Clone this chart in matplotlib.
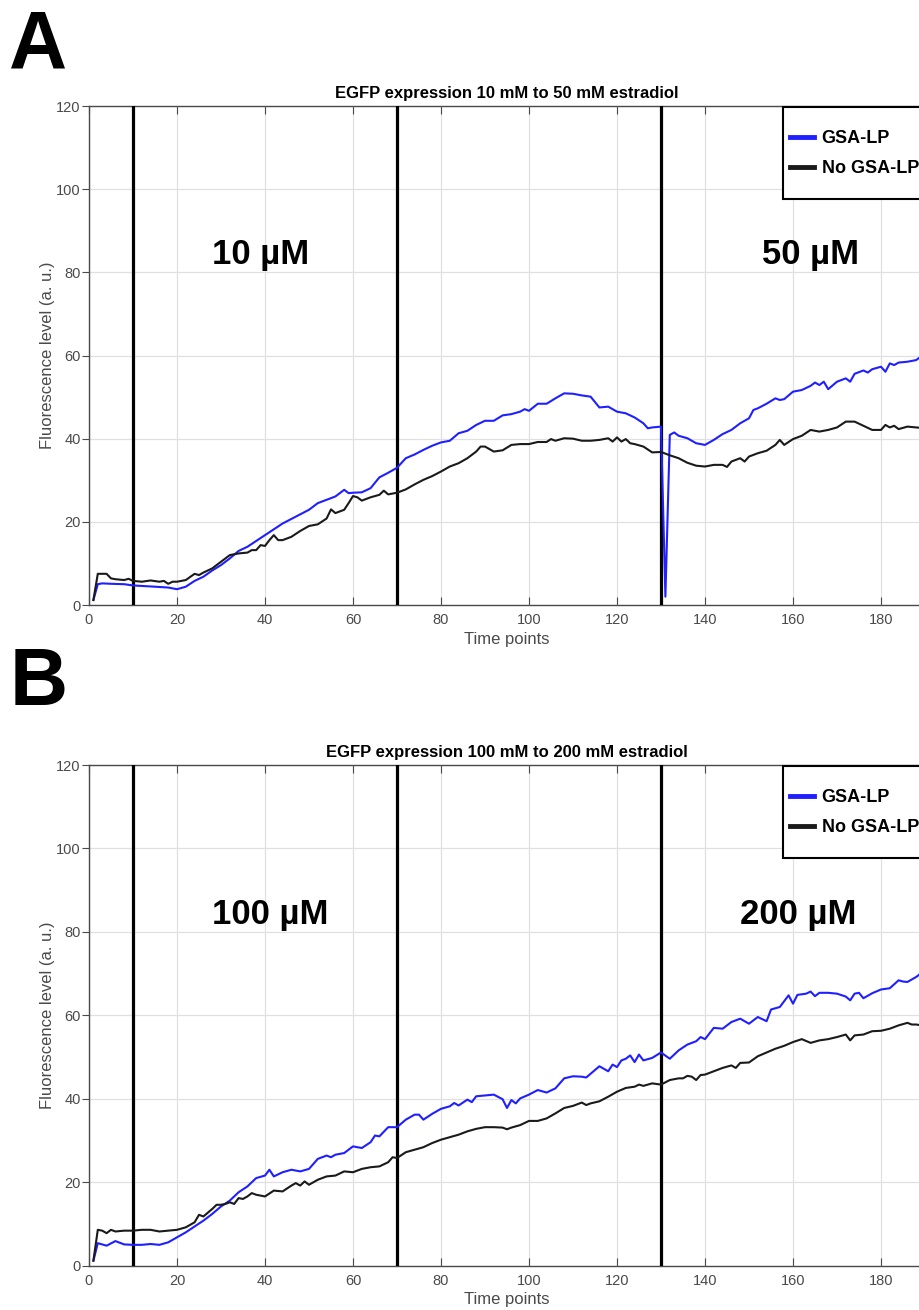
import matplotlib
matplotlib.use('Agg')
import matplotlib.pyplot as plt
from matplotlib.patches import Rectangle

plt.rcParams['font.family'] = ['Liberation Sans', 'DejaVu Sans']

# panel A: 10 uM -> 50 uM
ta_gsa = [1, 2, 3, 5, 8, 10, 15, 18, 20, 22, 24, 26, 28, 30, 32, 34, 36, 38, 40, 42,
          44, 46, 48, 50, 52, 54, 56, 58, 59, 60, 62, 64, 66, 68, 70, 72, 74, 76, 78, 80,
          82, 84, 86, 88, 90, 92, 94, 96, 98, 99, 100, 102, 104, 106, 108, 110, 112, 114, 116, 118,
          120, 122, 124, 126, 127, 128, 130, 131, 132, 133, 134, 136, 138, 140, 142, 144, 146, 148, 150, 151,
          152, 154, 156, 157, 158, 160, 162, 164, 165, 166, 167, 168, 170, 172, 173, 174, 176, 177, 178, 180,
          181, 182, 183, 184, 186, 188, 189, 190]
ya_gsa = [1.2, 5.0, 5.2, 5.1, 5.0, 4.7, 4.4, 4.2, 3.8, 4.4, 5.8, 6.8, 8.3, 9.6, 11.2, 13.0, 14.0, 15.4, 16.8, 18.2,
          19.6, 20.7, 21.8, 22.9, 24.5, 25.3, 26.1, 27.7, 26.9, 27.0, 27.1, 28.1, 30.7, 31.8, 33.0, 35.3, 36.2, 37.3, 38.3, 39.1,
          39.5, 41.3, 41.9, 43.3, 44.3, 44.3, 45.6, 45.9, 46.5, 47.1, 46.7, 48.4, 48.4, 49.7, 50.9, 50.8, 50.4, 50.1, 47.5, 47.7,
          46.5, 46.1, 45.1, 43.7, 42.5, 42.7, 42.9, 2.0, 40.9, 41.5, 40.7, 40.1, 38.9, 38.5, 39.7, 41.1, 42.1, 43.7, 44.9, 46.9,
          47.3, 48.4, 49.7, 49.3, 49.5, 51.3, 51.7, 52.7, 53.5, 52.9, 53.7, 51.9, 53.7, 54.5, 53.7, 55.6, 56.4, 55.9, 56.7, 57.3,
          56.1, 58.1, 57.7, 58.3, 58.5, 58.9, 59.7, 59.9]

ta_nogsa = [1, 2, 4, 5, 6, 8, 9, 10, 12, 14, 16, 17, 18, 19, 20, 22, 24, 25, 26, 28,
            30, 32, 34, 36, 37, 38, 39, 40, 41, 42, 43, 44, 46, 48, 50, 52, 54, 55, 56, 58,
            59, 60, 61, 62, 64, 66, 67, 68, 70, 72, 74, 76, 78, 80, 82, 84, 86, 88, 89, 90,
            92, 94, 96, 98, 100, 102, 104, 105, 106, 108, 110, 112, 114, 116, 118, 119, 120, 121, 122, 123,
            124, 126, 128, 130, 132, 134, 136, 138, 140, 142, 144, 145, 146, 148, 149, 150, 152, 154, 156, 157,
            158, 160, 162, 164, 166, 168, 170, 172, 174, 176, 178, 180, 181, 182, 183, 184, 186, 188, 190]
ya_nogsa = [1.2, 7.5, 7.5, 6.4, 6.2, 6.0, 6.3, 5.8, 5.6, 5.9, 5.6, 5.8, 5.1, 5.6, 5.6, 6.0, 7.5, 7.2, 7.8, 8.8,
            10.4, 12.0, 12.4, 12.6, 13.2, 13.2, 14.4, 14.2, 15.6, 16.8, 15.6, 15.6, 16.4, 17.8, 19.0, 19.4, 20.8, 23.0, 22.1, 22.9,
            24.5, 26.2, 25.9, 25.1, 25.9, 26.5, 27.5, 26.6, 27.0, 27.8, 29.0, 30.1, 31.0, 32.1, 33.3, 34.1, 35.3, 36.9, 38.1, 38.1,
            36.9, 37.2, 38.5, 38.7, 38.7, 39.2, 39.2, 39.9, 39.5, 40.1, 40.0, 39.5, 39.5, 39.7, 40.1, 39.3, 40.3, 39.3, 39.9, 38.9,
            38.7, 38.1, 36.7, 36.8, 36.0, 35.3, 34.2, 33.5, 33.3, 33.7, 33.7, 33.2, 34.5, 35.3, 34.5, 35.7, 36.5, 37.1, 38.5, 39.7,
            38.5, 39.9, 40.7, 42.1, 41.7, 42.1, 42.7, 44.1, 44.1, 43.1, 42.1, 42.1, 43.3, 42.7, 43.1, 42.3, 42.9, 42.7, 42.5]

# panel B: 100 uM -> 200 uM
tb_gsa = [1, 2, 4, 6, 8, 10, 12, 14, 16, 18, 20, 22, 24, 26, 28, 30, 32, 34, 36, 38,
          40, 41, 42, 44, 46, 48, 50, 52, 54, 55, 56, 58, 60, 62, 64, 65, 66, 68, 70, 72,
          74, 75, 76, 78, 80, 82, 83, 84, 86, 87, 88, 90, 92, 94, 95, 96, 97, 98, 100, 102,
          104, 106, 108, 110, 112, 113, 115, 116, 118, 119, 120, 121, 122, 123, 124, 125, 126, 128, 130, 132,
          134, 136, 138, 139, 140, 142, 144, 146, 148, 150, 152, 154, 155, 157, 159, 160, 161, 163, 164, 165,
          166, 168, 170, 172, 173, 174, 175, 176, 178, 180, 182, 184, 185, 186, 188, 189, 190]
yb_gsa = [1.2, 5.4, 4.8, 5.9, 5.1, 5.0, 5.0, 5.2, 5.0, 5.6, 6.8, 8.0, 9.4, 10.8, 12.4, 14.2, 15.6, 17.6, 19.0, 21.0,
          21.6, 23.0, 21.4, 22.4, 23.0, 22.6, 23.2, 25.6, 26.4, 26.0, 26.6, 27.0, 28.6, 28.2, 29.6, 31.2, 31.0, 33.2, 33.2, 35.0,
          36.2, 36.2, 35.0, 36.4, 37.6, 38.2, 39.0, 38.4, 39.8, 39.2, 40.6, 40.8, 41.0, 39.9, 37.8, 39.7, 38.9, 40.1, 41.0, 42.1,
          41.5, 42.5, 44.9, 45.4, 45.3, 45.1, 46.9, 47.8, 46.6, 48.2, 47.6, 49.2, 49.6, 50.4, 48.8, 50.6, 49.2, 49.8, 51.1, 49.6,
          51.6, 53.0, 53.8, 54.8, 54.3, 57.0, 56.8, 58.4, 59.2, 58.0, 59.6, 58.6, 61.4, 62.0, 64.8, 62.8, 64.9, 65.2, 65.7, 64.6,
          65.4, 65.4, 65.2, 64.5, 63.6, 65.2, 65.4, 64.1, 65.3, 66.2, 66.5, 68.4, 68.1, 68.0, 69.2, 70.0, 70.4]

tb_nogsa = [1, 2, 3, 4, 5, 6, 8, 10, 12, 14, 16, 18, 20, 22, 24, 25, 26, 28, 29, 30,
            31, 32, 33, 34, 35, 36, 37, 38, 40, 42, 44, 46, 47, 48, 49, 50, 52, 54, 56, 58,
            60, 62, 64, 66, 68, 69, 70, 72, 74, 76, 78, 80, 82, 84, 86, 88, 90, 92, 94, 95,
            96, 98, 100, 102, 104, 106, 108, 110, 112, 113, 114, 116, 118, 120, 122, 124, 125, 126, 128, 130,
            132, 134, 135, 136, 137, 138, 139, 140, 142, 144, 146, 147, 148, 150, 152, 154, 156, 158, 160, 162,
            164, 166, 168, 170, 172, 173, 174, 176, 178, 180, 182, 184, 186, 187, 188, 190]
yb_nogsa = [1.2, 8.6, 8.4, 7.8, 8.6, 8.2, 8.4, 8.4, 8.6, 8.6, 8.2, 8.4, 8.6, 9.2, 10.4, 12.2, 11.8, 13.6, 14.6, 14.6,
            14.8, 15.2, 14.8, 16.2, 16.0, 16.6, 17.4, 17.0, 16.6, 18.0, 17.8, 19.2, 19.8, 19.2, 20.2, 19.4, 20.6, 21.4, 21.6, 22.6,
            22.4, 23.2, 23.6, 23.8, 24.8, 26.0, 25.8, 27.2, 27.8, 28.4, 29.4, 30.2, 30.8, 31.4, 32.2, 32.8, 33.2, 33.2, 33.1, 32.7,
            33.1, 33.7, 34.7, 34.7, 35.3, 36.5, 37.8, 38.3, 39.1, 38.5, 38.9, 39.4, 40.5, 41.7, 42.6, 42.9, 43.4, 43.1, 43.7, 43.4,
            44.5, 44.9, 44.9, 45.5, 45.3, 44.5, 45.7, 45.8, 46.6, 47.4, 48.0, 47.4, 48.6, 48.7, 50.2, 51.1, 52.0, 52.7, 53.6, 54.3,
            53.4, 54.0, 54.3, 54.8, 55.4, 54.0, 55.2, 55.4, 56.2, 56.3, 56.8, 57.6, 58.2, 57.8, 57.8, 57.5]

switch_times = [10, 70, 130]
yticks = [0, 20, 40, 60, 80, 100, 120]
xticks = [0, 20, 40, 60, 80, 100, 120, 140, 160, 180]

BLUE = '#1f1fff'
GREY = '#4a4a4a'


def draw_panel(ax, t1, y1, t2, y2, title, conc1, conc2):
    ax.grid(True, color='#e0e0e0', lw=0.9)
    ax.set_axisbelow(True)
    for x in switch_times:
        ax.axvline(x, color='black', lw=2.3, zorder=3)
    ax.plot(t1, y1, color=BLUE, lw=1.5, label='GSA-LP', zorder=4)
    ax.plot(t2, y2, color='#1a1a1a', lw=1.5, label='No GSA-LP', zorder=4)
    ax.set_xlim(0, 190)
    ax.set_ylim(0, 120)
    ax.set_xticks(xticks)
    ax.set_yticks(yticks)
    ax.tick_params(axis='x', direction='in', length=6, top=True, colors=GREY,
                   labelsize=10.5, pad=6, labelcolor=GREY)
    ax.tick_params(axis='y', direction='out', length=5, colors=GREY,
                   labelsize=10.5, pad=1, labelcolor=GREY)
    for sp in ax.spines.values():
        sp.set_color(GREY)
        sp.set_linewidth(1.0)
    ax.set_xlabel('Time points', fontsize=12, color=GREY, labelpad=3)
    ax.set_ylabel('Fluorescence level (a. u.)', fontsize=12, color=GREY, labelpad=1)
    ax.set_title(title, fontsize=12, weight='bold', pad=6)
    ax.text(conc1[0], 82, conc1[1], fontsize=25, weight='bold', va='baseline', zorder=5)
    ax.text(conc2[0], 82, conc2[1], fontsize=25, weight='bold', va='baseline', zorder=5)

    # legend box is drawn by hand so it can be taller than the entries need
    box = Rectangle((0.830, 0.814), 0.3, 0.184, transform=ax.transAxes,
                    facecolor='white', edgecolor='black', lw=1.5,
                    clip_on=False, zorder=6)
    ax.add_patch(box)
    leg = ax.legend(loc='center left', bbox_to_anchor=(0.830, 0.905), borderaxespad=0,
                    frameon=False, prop={'size': 13, 'weight': 'bold'}, handlelength=1.3,
                    handletextpad=0.45, labelspacing=0.72, borderpad=0.4)
    for line in leg.get_lines():
        line.set_linewidth(3.5)
    leg.set_zorder(7)


fig = plt.figure(figsize=(9.2, 13.1), dpi=100)
ax_a = fig.add_axes([89/920, 705/1310, 836/920, 499/1310])
ax_b = fig.add_axes([89/920, 44.3/1310, 836/920, 500.7/1310])

draw_panel(ax_a, ta_gsa, ya_gsa, ta_nogsa, ya_nogsa,
           'EGFP expression 10 mM to 50 mM estradiol', (28, '10 µM'), (153, '50 µM'))
draw_panel(ax_b, tb_gsa, yb_gsa, tb_nogsa, yb_nogsa,
           'EGFP expression 100 mM to 200 mM estradiol', (28, '100 µM'), (148, '200 µM'))

fig.text(9/920, 1 - 68/1310, 'A', fontsize=58, weight='bold', va='baseline')
fig.text(10/920, 1 - 705/1310, 'B', fontsize=58, weight='bold', va='baseline')

fig.savefig('out.png', dpi=100)
